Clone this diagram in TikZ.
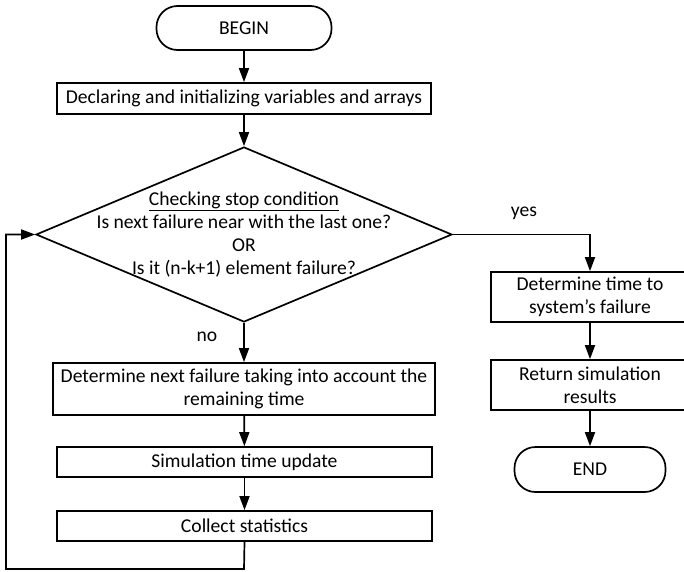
\documentclass[tikz,border=0pt]{standalone}
\usepackage{fontspec}
\setmainfont{Carlito}
\usetikzlibrary{arrows.meta,shapes.geometric}
\begin{document}
\begin{tikzpicture}[x=1pt,y=-1pt,
  every node/.style={font=\fontsize{19.6}{23.3}\selectfont, inner sep=0pt},
  box/.style={draw, line width=1.7pt, rectangle, align=center},
  term/.style={draw, line width=1.7pt, rectangle, rounded corners=21pt},
  decision/.style={draw, line width=1.7pt, diamond, minimum width=416pt, minimum height=175pt},
  conn/.style={line width=1.7pt, -{Triangle[length=14pt,width=10pt]}}]
\useasboundingbox (0,0) rectangle (684,571);
\clip (0,0) rectangle (684,571);
\fill[white] (0,0) rectangle (684,571);

\node[term, minimum width=175pt, minimum height=44pt] (begin) at (244,28) {BEGIN};
\node[box, minimum width=374pt, minimum height=31pt] (init) at (244,98.5) {Declaring and initializing variables and arrays};
\node[decision] (cond) at (244,234.5) {};
\node[align=center] (condtext) at (244,234.5) {\underline{Checking stop condition}\\Is next failure near with the last one?\\OR\\Is it (n-k+1) element failure?};
\node[box, minimum width=382pt, minimum height=52pt] (next) at (244,389) {Determine next failure taking into account the\\remaining time};
\node[box, minimum width=375pt, minimum height=30pt] (upd) at (244.5,462) {Simulation time update};
\node[box, minimum width=375pt, minimum height=30pt] (stat) at (244.5,526) {Collect statistics};
\node[box, minimum width=198pt, minimum height=50pt] (sysf) at (590,297) {Determine time to\\system’s failure};
\node[box, minimum width=198pt, minimum height=50pt] (ret) at (590,385) {Return simulation\\results};
\node[term, minimum width=151pt, minimum height=45pt] (end) at (590,469.5) {END};
\node (yes) at (524,213) {yes};
\node (no) at (207,337) {no};

\coordinate (lb) at (244,569);
\coordinate (ll) at (6,569);
\coordinate (lt) at (6,234.5);

\draw[conn] (begin) -- (init);
\draw[conn] (init) -- (cond.north);
\draw[conn] (cond.south) -- (next);
\draw[conn] (next) -- (upd);
\draw[conn] (upd) -- (stat);
\draw[conn] (stat.south) -- (lb) -- (ll) -- (lt) -- (cond.west);
\draw[conn] (cond.east) -| (sysf.north);
\draw[conn] (sysf) -- (ret);
\draw[conn] (ret) -- (end);
\end{tikzpicture}
\end{document}
